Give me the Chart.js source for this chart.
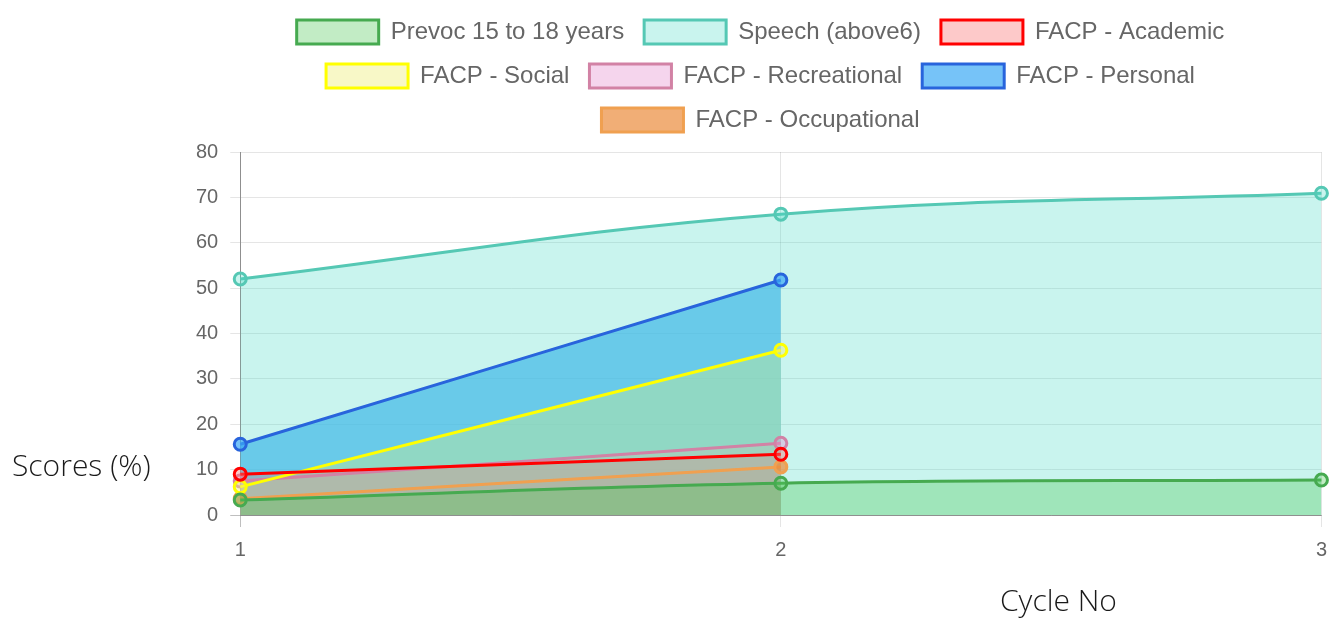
<!DOCTYPE html>
<html>
<head>
<meta charset="utf-8">
<script src="https://cdn.jsdelivr.net/npm/chart.js@4.4.0/dist/chart.umd.min.js"></script>
<style>
  html, body { margin: 0; padding: 0; background: #fff; }
  #wrap { position: relative; width: 1331px; height: 618px; overflow: hidden; }
  #c { position: absolute; left: 0; top: 0; }
  .axt { position: absolute; font-family: "Open Sans", "Noto Sans", sans-serif; font-weight: 300; font-size: 30px; color: #1a1a1a; white-space: nowrap; line-height: 40px; }
</style>
</head>
<body>
<div id="wrap">
  <canvas id="c" width="1338" height="618"></canvas>
  <div class="axt" id="ylab" style="left:12px; top:445px;">Scores (%)</div>
  <div class="axt" id="xlab" style="left:1000px; top:580px;">Cycle No</div>
</div>
<script>
const cycles = ['1', '2', '3'];
const prevoc = [3.3, 7.0, 7.7];
const speech = [52, 66.3, 70.9];
const academic = [9.0, 13.4];
const social = [6.2, 36.3];
const recreational = [7.5, 15.8];
const personal = [15.6, 51.8];
const occupational = [3.6, 10.6];
const seriesNames = ['Prevoc 15 to 18 years', 'Speech (above6)', 'FACP - Academic', 'FACP - Social', 'FACP - Recreational', 'FACP - Personal', 'FACP - Occupational'];
const yTicks = [0, 10, 20, 30, 40, 50, 60, 70, 80];

const borders = ['rgb(70,170,80)', 'rgb(85,200,180)', 'rgb(255,0,0)', 'rgb(255,255,0)', 'rgb(210,130,165)', 'rgb(40,100,220)', 'rgb(240,160,80)'];
const fills = ['rgba(80,200,90,0.35)', 'rgba(75,220,200,0.3)', 'rgba(250,120,120,0.4)', 'rgba(240,240,130,0.45)', 'rgba(230,150,210,0.4)', 'rgba(60,170,245,0.7)', 'rgba(235,140,60,0.7)'];
const seriesData = [prevoc, speech, academic, social, recreational, personal, occupational];

const datasets = seriesData.map((d, i) => ({
  label: seriesNames[i],
  data: d,
  borderColor: borders[i],
  backgroundColor: fills[i],
  pointBackgroundColor: fills[i],
  pointBorderColor: borders[i],
  borderWidth: 3,
  pointRadius: 6,
  pointBorderWidth: 3,
  fill: 'origin',
  tension: 0.4
}));

const FONT = '"Liberation Sans", Arial, Helvetica, sans-serif';

const legendMargin = {
  id: 'legendMargin',
  beforeUpdate(chart) {
    const lg = chart.legend;
    if (lg && !lg._patched) {
      const orig = lg.fit;
      lg.fit = function () { orig.call(this); this.height += 10; };
      lg._patched = true;
    }
  }
};

new Chart(document.getElementById('c'), {
  type: 'line',
  data: { labels: cycles, datasets },
  plugins: [legendMargin],
  options: {
    responsive: false,
    animation: false,
    layout: { padding: { left: 184, right: 1, top: 0, bottom: 45 } },
    plugins: {
      filler: { drawTime: 'beforeDatasetsDraw' },
      legend: {
        position: 'top',
        labels: {
          font: { family: FONT, size: 24 },
          color: '#666',
          boxWidth: 82,
          boxHeight: 24,
          padding: 20
        }
      },
      tooltip: { enabled: false }
    },
    scales: {
      x: {
        offset: false,
        grid: {
          color: (c) => c.index === 0 ? 'rgba(0,0,0,0.25)' : 'rgba(0,0,0,0.1)',
          tickLength: 12,
          lineWidth: 1
        },
        border: { color: 'rgba(0,0,0,0.25)' },
        ticks: { font: { family: FONT, size: 20 }, color: '#666', padding: 11 }
      },
      y: {
        min: 0, max: 80,
        afterBuildTicks: (s) => { s.ticks = yTicks.map(v => ({ value: v })); },
        grid: {
          color: (c) => c.tick && c.tick.value === 0 ? 'rgba(0,0,0,0.25)' : 'rgba(0,0,0,0.1)',
          tickLength: 10
        },
        border: { color: 'rgba(0,0,0,0.25)' },
        ticks: { font: { family: FONT, size: 20 }, color: '#666', padding: 12 }
      }
    }
  }
});
</script>
</body>
</html>
